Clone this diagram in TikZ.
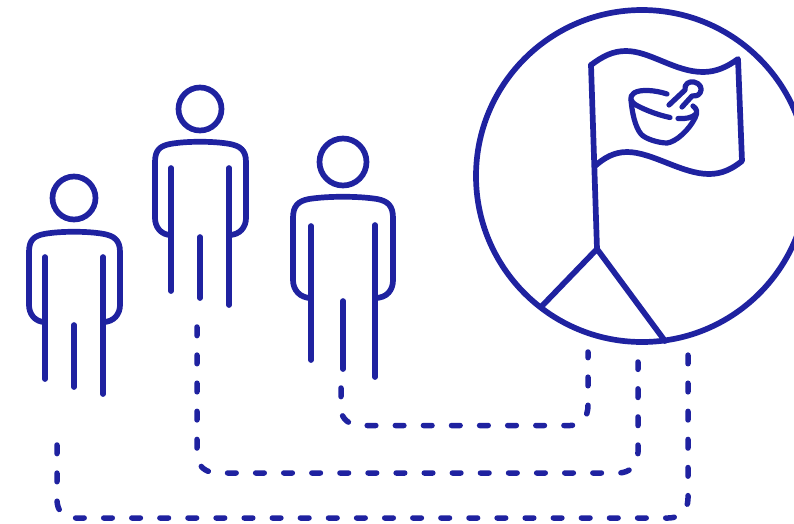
\documentclass[tikz,border=0pt]{standalone}
\definecolor{ink}{HTML}{1F22A0}
\tikzset{
  line/.style={draw=ink,line width=5.7pt,line cap=round,line join=round},
  thin line/.style={draw=ink,line width=5.2pt,line cap=round,line join=round},
  link/.style={draw=ink,line width=5.5pt,line cap=round,dash pattern=on 8.6pt off 19.5pt},
}
\begin{document}
\begin{tikzpicture}[x=1pt,y=-1pt]
\useasboundingbox (0,0) rectangle (794,523);
% person 1
\draw[line] (74,198) circle (21.5);
\draw[line] (45,322) .. controls (35,322) and (29,314) .. (29,305) -- (29,252)
  .. controls (29,240) and (34,236) .. (44,234) .. controls (60,231) and (88,231) .. (104,234)
  .. controls (114,236) and (120,240) .. (120,252) -- (120,305) .. controls (120,314) and (114,322) .. (103,322);
\draw[line] (45,257) -- (45,379);
\draw[line] (74,325) -- (74,387);
\draw[line] (103,257) -- (103,394);
% person 2
\draw[line] (200,109) circle (21.5);
\draw[line] (171,235) .. controls (161,235) and (155,227) .. (155,218) -- (155,162)
  .. controls (155,150) and (160,146) .. (170,144) .. controls (186,141) and (214,141) .. (230,144)
  .. controls (240,146) and (246,150) .. (246,162) -- (246,218) .. controls (246,227) and (240,235) .. (229,235);
\draw[line] (171,168) -- (171,291);
\draw[line] (200,237) -- (200,298);
\draw[line] (229,168) -- (229,305);
% person 3
\draw[line] (343,162) circle (23.5);
\draw[line] (311,298) .. controls (300,298) and (293,290) .. (293,280) -- (293,218)
  .. controls (293,206) and (298,201) .. (309,199) .. controls (328,196) and (358,196) .. (377,199)
  .. controls (388,201) and (393,206) .. (393,218) -- (393,280) .. controls (393,290) and (387,298) .. (375,298);
\draw[line] (311,226) -- (311,360);
\draw[line] (343,301) -- (343,369);
\draw[line] (375,225) -- (375,377);
% circle
\draw[line] (642,176) circle (166);
\draw[line] (541,307) -- (597,249) -- (665,341);
\draw[line] (597,249) -- (591,65);
% flag
\draw[line] (591,65) .. controls (603,56) and (613,51) .. (626,51)
  .. controls (650,51) and (675,72) .. (703,72) .. controls (716,72) and (727,67) .. (738,59)
  -- (742,161) .. controls (732,169) and (722,174) .. (709,174)
  .. controls (682,174) and (652,152) .. (627,152) .. controls (614,152) and (604,158) .. (595,166);
% mortar and pestle
\draw[thin line] (667,94) .. controls (655,90) and (640,89) .. (634,93)
  .. controls (629,97) and (630,101) .. (636,105) .. controls (645,110) and (658,115) .. (670,117.5);
\draw[thin line] (631,100) .. controls (632,112) and (635,127) .. (641,134)
  .. controls (645,139) and (659,143) .. (667,143) .. controls (676,142) and (689,130) .. (695,118)
  .. controls (698,112) and (697,109) .. (693,106);
\draw[thin line] (678,118.5) .. controls (685,119) and (692,118) .. (696,114);
\draw[thin line] (669,105) -- (685,90) .. controls (684,84) and (689,81) .. (694,82)
  .. controls (700,83) and (703,89) .. (700,93) .. controls (698,96) and (695,96) .. (692,96)
  -- (682,107);
% dashed links
\coordinate (a1) at (341,388); \coordinate (b1) at (588,352);
\coordinate (a2) at (197,327); \coordinate (b2) at (638,362);
\coordinate (a3) at (57,445);  \coordinate (b3) at (688,352);
\draw[link] (a1) -- (341,409) .. controls (341,419) and (350,425.5) .. (360,425.5) -- (570,425.5)
  .. controls (582,425.5) and (588,417) .. (588,405) -- (b1);
\draw[link] (a2) -- (197,455) .. controls (197,466) and (206,473) .. (217,473) -- (618,473)
  .. controls (630,473) and (638,465) .. (638,452) -- (b2);
\draw[link] (a3) -- (57,500) .. controls (57,511) and (64,518) .. (75,518) -- (668,518)
  .. controls (680,518) and (688,511) .. (688,498) -- (b3);
\end{tikzpicture}
\end{document}
